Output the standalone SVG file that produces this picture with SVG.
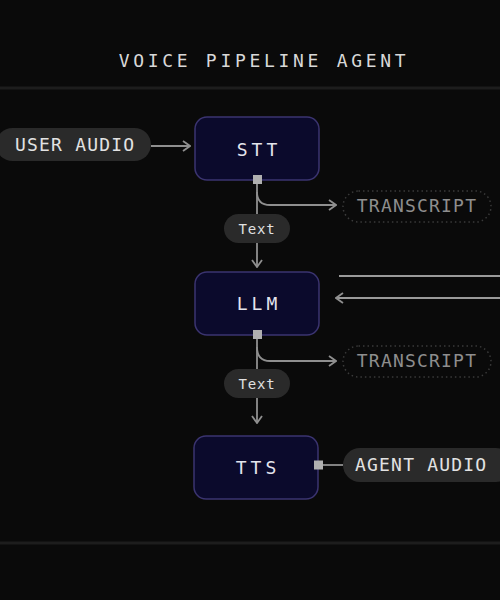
<svg xmlns="http://www.w3.org/2000/svg" width="500" height="600" viewBox="0 0 500 600">
<defs>
<marker id="chev" viewBox="0 0 10 12" refX="9" refY="6" markerWidth="10" markerHeight="12" markerUnits="userSpaceOnUse" orient="auto">
<path d="M2,1 L9,6 L2,11" fill="none" stroke="#8f8f8f" stroke-width="1.8"/>
</marker>
</defs>
<style>
.mono{font-family:"DejaVu Sans Mono","Liberation Mono",monospace}
.title{font-size:18px;letter-spacing:3.7px;fill:#d8d8d8}
.node rect{fill:#0b0a2c;stroke:#3b3470;stroke-width:1.5}
.nlabel{font-size:18px;letter-spacing:4px;fill:#e4e4ec}
.pill{fill:#2a2a2a}
.plabel{font-size:18px;letter-spacing:1.2px;fill:#e2e2e2}
.tpill{fill:#0a0a0a;stroke:#3a3a3a;stroke-width:1.5;stroke-dasharray:1.5 3}
.tlabel{font-size:18px;letter-spacing:1.2px;fill:#8e8e8e}
.edge{fill:none;stroke:#8f8f8f;stroke-width:1.8}
.port{fill:#b0b0b0}
.tag{fill:#2a2a2a}
.taglabel{font-size:14px;letter-spacing:0.8px;fill:#e0e0e0}
.div{stroke:#1d1d1d;stroke-width:3}
</style>
<rect x="0" y="0" width="500" height="600" fill="#0a0a0a"/>
<text class="mono title" x="264" y="67" text-anchor="middle">VOICE PIPELINE AGENT</text>
<line class="div" x1="0" y1="88" x2="500" y2="88"/>
<line class="div" x1="0" y1="543" x2="500" y2="543"/>

<g id="connectors">
<path class="edge" d="M151,146 L190,146" marker-end="url(#chev)"/>
<path class="edge" d="M257,184 L257,267" marker-end="url(#chev)"/>
<path class="edge" d="M257,192 Q257,205 270,205 L336,205" marker-end="url(#chev)"/>
<path class="edge" d="M257,339 L257,423" marker-end="url(#chev)"/>
<path class="edge" d="M257,347 Q257,361 270,361 L336,361" marker-end="url(#chev)"/>
<path class="edge" d="M339,276 L500,276" style="stroke:#9a9a9a"/>
<path class="edge" d="M500,298 L336,298" style="stroke:#9a9a9a" marker-end="url(#chev)"/>
<path class="edge" d="M323,465 L343,465"/>
</g>

<g id="user-audio">
<rect class="pill" x="-4" y="128" width="155" height="33" rx="16.5"/>
<text class="mono plabel" x="15" y="151">USER AUDIO</text>
</g>

<g id="stt" class="node">
<rect x="195" y="117" width="124" height="63" rx="12"/>
<text class="mono nlabel" x="259" y="156" text-anchor="middle">STT</text>
</g>
<rect class="port" x="253" y="175" width="9" height="9"/>

<g id="transcript-1">
<rect class="tpill" x="343" y="191" width="148" height="31" rx="15.5"/>
<text class="mono tlabel" x="417" y="212" text-anchor="middle">TRANSCRIPT</text>
</g>

<g id="text-1">
<rect class="tag" x="224" y="214" width="66" height="29" rx="14.5"/>
<text class="mono taglabel" x="257" y="234" text-anchor="middle">Text</text>
</g>

<g id="llm" class="node">
<rect x="195" y="272" width="124" height="63" rx="12"/>
<text class="mono nlabel" x="259" y="310" text-anchor="middle">LLM</text>
</g>
<rect class="port" x="253" y="330" width="9" height="9"/>

<g id="transcript-2">
<rect class="tpill" x="343" y="346" width="148" height="31" rx="15.5"/>
<text class="mono tlabel" x="417" y="367" text-anchor="middle">TRANSCRIPT</text>
</g>

<g id="text-2">
<rect class="tag" x="224" y="369" width="66" height="29" rx="14.5"/>
<text class="mono taglabel" x="257" y="389" text-anchor="middle">Text</text>
</g>

<g id="tts" class="node">
<rect x="194" y="436" width="124" height="63" rx="12"/>
<text class="mono nlabel" x="258" y="474" text-anchor="middle">TTS</text>
</g>
<rect class="port" x="314" y="460.5" width="9" height="9"/>

<g id="agent-audio">
<rect class="pill" x="343" y="448" width="170" height="34" rx="17"/>
<text class="mono plabel" x="355" y="471">AGENT AUDIO</text>
</g>
</svg>
